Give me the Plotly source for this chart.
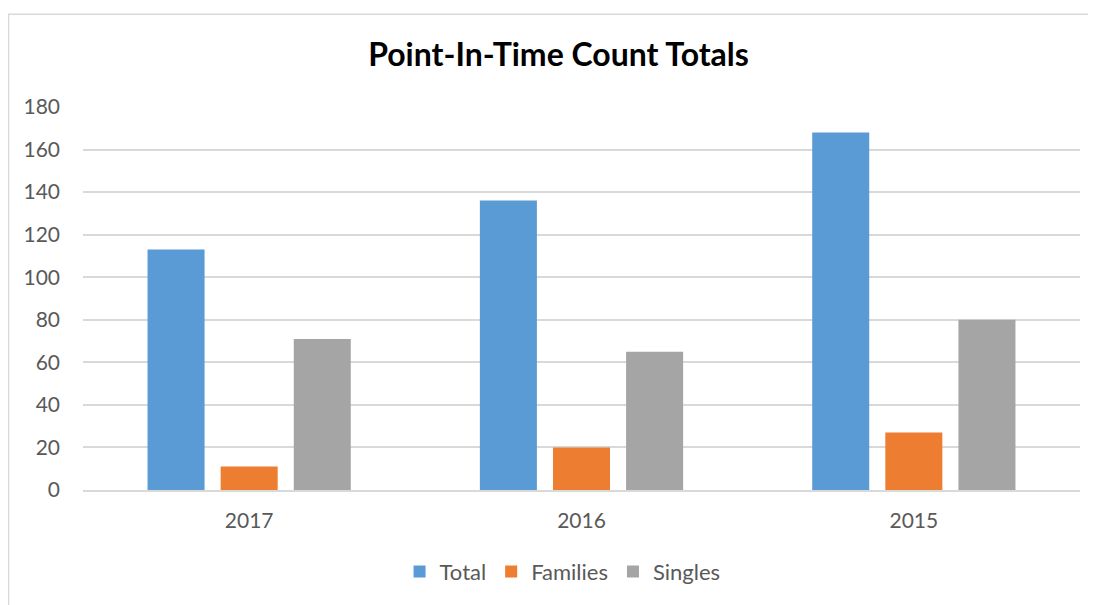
import plotly.graph_objects as go

years = ["2017", "2016", "2015"]
total = [113, 136, 168]
families = [11, 20, 27]
singles = [71, 65, 80]

series = [
    ("Total", total, "#5b9bd5"),
    ("Families", families, "#ed7d31"),
    ("Singles", singles, "#a5a5a5"),
]

fig = go.Figure()
for name, vals, color in series:
    fig.add_trace(go.Bar(x=years, y=vals, name=name, marker=dict(color=color, line=dict(width=0))))

# page body has an 8px margin, so the figure is a bit smaller than the window
fig.update_layout(
    width=1088, height=597,
    paper_bgcolor="white", plot_bgcolor="white",
    margin=dict(l=75, r=16, t=99, b=112),
    font=dict(family="Lato, Open Sans, sans-serif", color="#595959", size=21),
    title=dict(text="<b>Point-In-Time Count Totals</b>", x=0.506, xanchor="center",
               y=0.921, yanchor="middle", font=dict(size=32, color="black")),
    barmode="group", bargap=0.34, bargroupgap=0.22,
    showlegend=True,
    legend=dict(orientation="h", x=0.481, xanchor="center", y=-0.213, yanchor="middle",
                font=dict(size=22, color="#595959"), itemwidth=30, traceorder="normal"),
    xaxis=dict(showgrid=False, showline=True, linecolor="#d9d9d9", linewidth=1.5,
               ticks="", tickfont=dict(size=21), ticklabelstandoff=11),
    yaxis=dict(range=[0, 180], dtick=20, showgrid=True, gridcolor="#d9d9d9", gridwidth=1.5,
               zeroline=False, ticks="", tickfont=dict(size=21), ticklabelstandoff=22),
    shapes=[dict(type="rect", xref="paper", yref="paper", x0=-0.0747, x1=1.05, y0=-0.4,
                 y1=1.2422, line=dict(color="#d9d9d9", width=1.5), fillcolor="rgba(0,0,0,0)",
                 layer="below")],
)

fig.write_html("out.html")
